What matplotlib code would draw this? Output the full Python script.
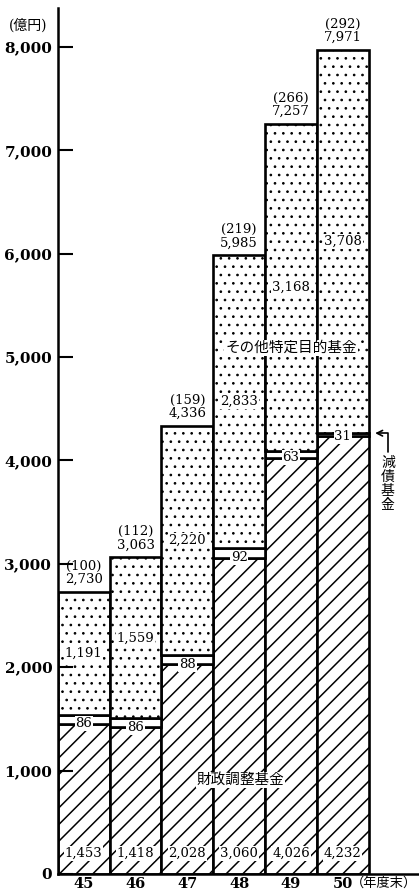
import matplotlib
matplotlib.use("Agg")
import matplotlib.pyplot as plt
import numpy as np

plt.rcParams['font.family'] = ['DejaVu Serif', 'Noto Sans CJK JP']

# data (億円)
years = ['45', '46', '47', '48', '49', '50']
zaisei = [1453, 1418, 2028, 3060, 4026, 4232]    # 財政調整基金
gensai = [86, 86, 88, 92, 63, 31]                # 減債基金
sonota = [1191, 1559, 2220, 2833, 3168, 3708]    # その他特定目的基金
totals = [2730, 3063, 4336, 5985, 7257, 7971]
index = [100, 112, 159, 219, 266, 292]

x = np.arange(len(years)) + 0.5
z = np.array(zaisei)
g = np.array(gensai)
s = np.array(sonota)

fig = plt.figure(figsize=(4.19, 8.93), dpi=100)
ax = fig.add_axes([0.138, 0.0213, 0.862, 0.9697])

lw = 1.9
plt.rcParams['hatch.linewidth'] = 1.1
ax.bar(x, z, width=1.0, facecolor='white', edgecolor='black', hatch='//', linewidth=lw)
ax.bar(x, g, width=1.0, bottom=z, facecolor='white', edgecolor='black', linewidth=lw)
plt.rcParams['hatch.linewidth'] = 0.7
ax.bar(x, s, width=1.0, bottom=z + g, facecolor='white', edgecolor='black', hatch='..', linewidth=lw)

fs = 9.5
box = dict(facecolor='white', edgecolor='none', pad=0.6)
for i in range(len(years)):
    ax.text(x[i], 200, f'{zaisei[i]:,}', ha='center', va='center', fontsize=fs, bbox=box)
    ax.text(x[i], zaisei[i], f'{gensai[i]}', ha='center', va='center', fontsize=fs, bbox=box)
    ax.text(x[i], zaisei[i] + gensai[i] + sonota[i] / 2, f'{sonota[i]:,}', ha='center', va='center',
            fontsize=fs, bbox=box)
    ax.annotate(f'({index[i]})\n{totals[i]:,}', (x[i], totals[i]), xytext=(0, 4),
                textcoords='offset points', ha='center', va='bottom', fontsize=fs, linespacing=1.05)

ax.text(4.5, 5087, 'その他特定目的基金', ha='center', va='center', fontsize=10.5,
        bbox=dict(facecolor='white', edgecolor='none', pad=0.5))
ax.text(3.53, 909, '財政調整基金', ha='center', va='center', fontsize=10.5,
        bbox=dict(facecolor='white', edgecolor='none', pad=0.5))

# 減債基金 pointer
top50 = zaisei[-1] + gensai[-1]
ax.annotate('', xy=(6.07, top50), xytext=(6.37, top50 - 210),
            arrowprops=dict(arrowstyle='->', color='black', lw=1.2,
                            connectionstyle='angle,angleA=90,angleB=0,rad=0'))
ax.text(6.37, 3770, '減\n債\n基\n金', ha='center', va='center', fontsize=10, linespacing=1.0)

ax.set_xlim(0, 6.97)
ax.set_ylim(0, 8375)
ax.spines['top'].set_visible(False)
ax.spines['right'].set_visible(False)
ax.spines['left'].set_linewidth(1.8)
ax.spines['bottom'].set_linewidth(1.8)

ax.set_yticks(np.arange(0, 8001, 1000))
ax.set_yticklabels([f'{v:,}' for v in range(0, 8001, 1000)], fontsize=11, fontweight='bold')
ax.tick_params(axis='y', direction='in', length=11, width=1.5, pad=4)
ax.set_xticks(x)
ax.set_xticklabels(years, fontsize=10.5, fontweight='bold')
ax.tick_params(axis='x', length=0, pad=2)

fig.text(0.02, 0.972, '(億円)', fontsize=10, ha='left', va='center')
ax.annotate('（年度末）', (x[-1], 0), xytext=(6, -7), textcoords='offset points',
            ha='left', va='center', fontsize=9.5, annotation_clip=False)

fig.savefig('out.png', dpi=100)
